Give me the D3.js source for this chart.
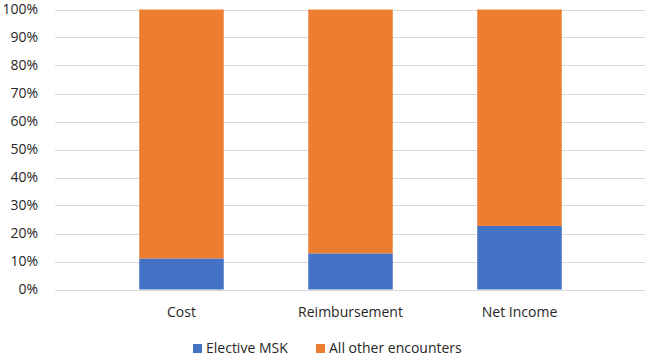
<!DOCTYPE html>
<html>
<head>
<meta charset="utf-8">
<script src="https://cdn.jsdelivr.net/npm/d3@7"></script>
<style>
  body { margin: 0; background: #fff; }
  text { font-family: "Open Sans", sans-serif; fill: #262626; }
</style>
</head>
<body>
<div id="chart"></div>
<script>
// chart data
var categories = ['Cost', 'Reimbursement', 'Net Income'];
var electiveMSK = [11.1, 12.9, 22.7];
var allOther = [88.9, 87.1, 77.3];
var seriesNames = ['Elective MSK', 'All other encounters'];
var seriesColors = ['#4472C4', '#ED7D31'];
var yTicks = [0, 10, 20, 30, 40, 50, 60, 70, 80, 90, 100];

var W = 650, H = 356;
var plotTop = 9.5, plotBottom = 289.5;
var gridLeft = 55, gridRight = 645;

var svg = d3.select('#chart').append('svg')
    .attr('width', W)
    .attr('height', H);

var y = d3.scaleLinear()
    .domain([0, 100])
    .range([plotBottom, plotTop]);

var x = d3.scaleBand()
    .domain(categories)
    .range([97, 604])
    .paddingInner(0.5)
    .paddingOuter(0.25);

// gridlines
svg.append('g').selectAll('line')
    .data(yTicks)
    .enter()
    .append('line')
    .attr('x1', gridLeft)
    .attr('x2', gridRight)
    .attr('y1', d => Math.round(y(d)) + 0.5)
    .attr('y2', d => Math.round(y(d)) + 0.5)
    .style('stroke', '#d9d9d9')
    .style('stroke-width', 1);

// y axis labels
var yAxis = d3.axisLeft(y)
    .tickValues(yTicks)
    .tickFormat(d => d + '%')
    .tickSize(0)
    .tickPadding(0);

var gy = svg.append('g')
    .attr('transform', 'translate(38,0)')
    .call(yAxis);
gy.select('.domain').remove();
gy.selectAll('text')
    .style('font-size', '14px')
    .style('font-family', '"Open Sans", sans-serif')
    .attr('fill', '#262626');

// stacked bars
var rows = categories.map((c, i) => ({cat: c, msk: electiveMSK[i], other: allOther[i]}));
var stack = d3.stack().keys(['msk', 'other']);
var layers = stack(rows);

svg.append('g').selectAll('g')
    .data(layers)
    .enter()
    .append('g')
    .attr('fill', (d, i) => seriesColors[i])
    .selectAll('rect')
    .data(d => d)
    .enter()
    .append('rect')
    .attr('x', d => x(d.data.cat))
    .attr('width', x.bandwidth())
    .attr('y', d => y(d[1]))
    .attr('height', d => y(d[0]) - y(d[1]));

// category labels
var xAxis = d3.axisBottom(x).tickSize(0).tickPadding(0);
var gx = svg.append('g')
    .attr('transform', `translate(0,${plotBottom})`)
    .call(xAxis);
gx.select('.domain').remove();
gx.selectAll('text')
    .attr('dy', null)
    .attr('y', 27)
    .style('font-size', '14px')
    .style('font-family', '"Open Sans", sans-serif')
    .attr('fill', '#262626');

// legend
var legendX = [193, 316];
var legend = svg.append('g').selectAll('g')
    .data(seriesNames)
    .enter()
    .append('g')
    .attr('transform', (d, i) => `translate(${legendX[i]},343)`);

legend.append('rect')
    .attr('width', 9)
    .attr('height', 9)
    .attr('y', 1)
    .attr('fill', (d, i) => seriesColors[i]);

legend.append('text')
    .attr('x', 13)
    .attr('y', 10)
    .style('font-size', '14px')
    .text(d => d);
</script>
</body>
</html>
